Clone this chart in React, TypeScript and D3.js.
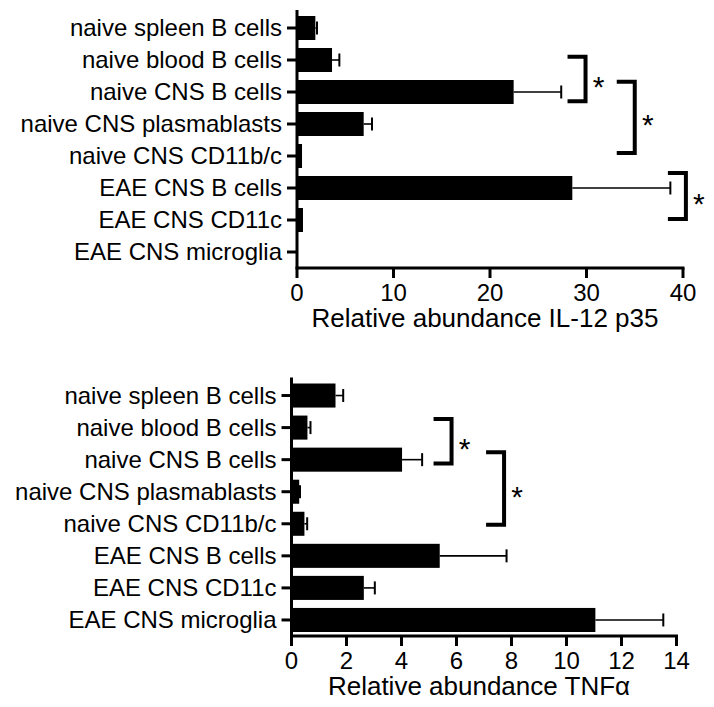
import React, { useEffect, useRef } from "react";
import * as d3 from "d3";

// cell populations (same order in both panels)
const categories = [
  "naive spleen B cells",
  "naive blood B cells",
  "naive CNS B cells",
  "naive CNS plasmablasts",
  "naive CNS CD11b/c",
  "EAE CNS B cells",
  "EAE CNS CD11c",
  "EAE CNS microglia",
];

// IL-12 p35 panel
const il12Values = [1.9, 3.63, 22.45, 6.91, 0.52, 28.53, 0.62, 0.1];
const il12Errors = [0.17, 0.76, 4.93, 0.86, 0, 10.16, 0, 0];
const il12Ticks = [0, 10, 20, 30, 40];
// significance brackets: x in axis units, top/bottom in row units
const il12Brackets = [
  { x: 29.9, top: 1.4, bottom: 2.79 },
  { x: 35.0, top: 2.18, bottom: 4.41 },
  { x: 40.3, top: 5.03, bottom: 6.47 },
];

// TNFa panel
const tnfValues = [1.6, 0.58, 4.02, 0.28, 0.47, 5.39, 2.63, 11.05];
const tnfErrors = [0.28, 0.11, 0.73, 0.03, 0.1, 2.43, 0.4, 2.47];
const tnfTicks = [0, 2, 4, 6, 8, 10, 12, 14];
const tnfBrackets = [
  { x: 5.82, top: 1.23, bottom: 2.62 },
  { x: 7.73, top: 2.27, bottom: 4.53 },
];

const FONT = "'Liberation Sans', Arial, Helvetica, sans-serif";

type Bracket = { x: number; top: number; bottom: number };

function drawPanel(
  g: d3.Selection<SVGGElement, unknown, null, undefined>,
  opts: {
    values: number[];
    errors: number[];
    ticks: number[];
    brackets: Bracket[];
    title: string;
    xRange: [number, number];
    yRange: [number, number];
  }
) {
  const { values, errors, ticks, brackets, title, xRange, yRange } = opts;
  const data = categories.map((c, i) => ({ c, v: values[i], e: errors[i] }));

  const x = d3
    .scaleLinear()
    .domain([0, ticks[ticks.length - 1]])
    .range(xRange);

  const y = d3
    .scaleBand()
    .domain(categories)
    .range(yRange)
    .paddingInner(0.25)
    .paddingOuter(0.125);

  // row units -> pixels, for the brackets
  const row = d3.scaleLinear().domain([0, categories.length]).range(yRange);

  const x0 = x(0);
  const axisY = yRange[1];

  // bars
  g.selectAll(".bar")
    .data(data)
    .enter()
    .append("rect")
    .attr("x", x0)
    .attr("y", (d) => y(d.c)!)
    .attr("width", (d) => x(d.v) - x0)
    .attr("height", y.bandwidth())
    .attr("fill", "#000");

  // error bars (one-sided)
  const withErr = data.filter((d) => d.e > 0);
  g.selectAll(".err")
    .data(withErr)
    .enter()
    .append("line")
    .attr("x1", (d) => x(d.v))
    .attr("x2", (d) => x(d.v + d.e))
    .attr("y1", (d) => y(d.c)! + y.bandwidth() / 2)
    .attr("y2", (d) => y(d.c)! + y.bandwidth() / 2)
    .attr("stroke", "#000")
    .attr("stroke-width", 1.6);

  g.selectAll(".cap")
    .data(withErr)
    .enter()
    .append("line")
    .attr("x1", (d) => x(d.v + d.e))
    .attr("x2", (d) => x(d.v + d.e))
    .attr("y1", (d) => y(d.c)! + y.bandwidth() / 2 - 6.5)
    .attr("y2", (d) => y(d.c)! + y.bandwidth() / 2 + 6.5)
    .attr("stroke", "#000")
    .attr("stroke-width", 2);

  // y axis
  g.append("line")
    .attr("x1", x0)
    .attr("x2", x0)
    .attr("y1", yRange[0] - 2)
    .attr("y2", axisY)
    .attr("stroke", "#000")
    .attr("stroke-width", 3);

  g.selectAll(".ytick")
    .data(categories)
    .enter()
    .append("line")
    .attr("x1", x0 - 10)
    .attr("x2", x0)
    .attr("y1", (d) => y(d)! + y.bandwidth() / 2)
    .attr("y2", (d) => y(d)! + y.bandwidth() / 2)
    .attr("stroke", "#000")
    .attr("stroke-width", 3);

  g.selectAll(".ylabel")
    .data(categories)
    .enter()
    .append("text")
    .attr("x", x0 - 15)
    .attr("y", (d) => y(d)! + y.bandwidth() / 2)
    .attr("dy", "0.35em")
    .attr("text-anchor", "end")
    .style("font-family", FONT)
    .style("font-size", "24px")
    .text((d) => d);

  // x axis
  g.append("line")
    .attr("x1", x0 - 1.5)
    .attr("x2", xRange[1] + 1.5)
    .attr("y1", axisY)
    .attr("y2", axisY)
    .attr("stroke", "#000")
    .attr("stroke-width", 3);

  g.selectAll(".xtick")
    .data(ticks)
    .enter()
    .append("line")
    .attr("x1", (d) => x(d))
    .attr("x2", (d) => x(d))
    .attr("y1", axisY)
    .attr("y2", axisY + 10)
    .attr("stroke", "#000")
    .attr("stroke-width", 3);

  g.selectAll(".xlabel")
    .data(ticks)
    .enter()
    .append("text")
    .attr("x", (d) => x(d))
    .attr("y", axisY + 33)
    .attr("text-anchor", "middle")
    .style("font-family", FONT)
    .style("font-size", "24px")
    .text((d) => d);

  g.append("text")
    .attr("x", (xRange[0] + xRange[1]) / 2 - 5)
    .attr("y", axisY + 59)
    .attr("text-anchor", "middle")
    .style("font-family", FONT)
    .style("font-size", "26px")
    .text(title);

  // significance brackets
  const arm = 18;
  brackets.forEach((b) => {
    const bx = x(b.x);
    const t = row(b.top);
    const btm = row(b.bottom);
    g.append("path")
      .attr("d", `M${bx - arm},${t}H${bx}V${btm}H${bx - arm}`)
      .attr("fill", "none")
      .attr("stroke", "#000")
      .attr("stroke-width", 4);
    g.append("text")
      .attr("x", bx + 13)
      .attr("y", (t + btm) / 2 + 18)
      .attr("text-anchor", "middle")
      .style("font-family", FONT)
      .style("font-size", "30px")
      .text("*");
  });
}

const Chart = () => {
  const svgRef = useRef<SVGSVGElement | null>(null);

  useEffect(() => {
    const svg = d3.select(svgRef.current);
    svg.selectAll("*").remove();

    drawPanel(svg.append("g"), {
      values: il12Values,
      errors: il12Errors,
      ticks: il12Ticks,
      brackets: il12Brackets,
      title: "Relative abundance IL-12 p35",
      xRange: [297, 683],
      yRange: [12, 268],
    });

    drawPanel(svg.append("g"), {
      values: tnfValues,
      errors: tnfErrors,
      ticks: tnfTicks,
      brackets: tnfBrackets,
      title: "Relative abundance TNF\u03b1",
      xRange: [291.5, 676.5],
      yRange: [379.5, 636],
    });
  }, []);

  return (
    <svg
      ref={svgRef}
      width={714}
      height={707}
      style={{ position: "absolute", left: 0, top: 0, background: "#fff" }}
    />
  );
};

export default function App() {
  return <Chart />;
}
